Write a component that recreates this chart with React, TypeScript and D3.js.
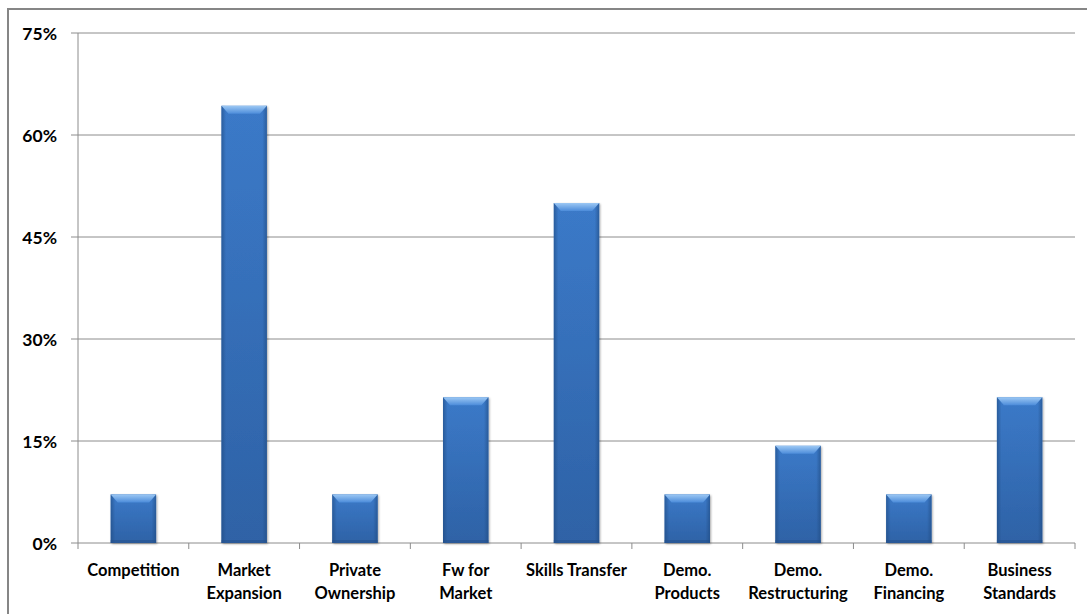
import React from 'react';
import * as d3 from 'd3';

const categories: string[][] = [
  ['Competition'],
  ['Market', 'Expansion'],
  ['Private', 'Ownership'],
  ['Fw for', 'Market'],
  ['Skills Transfer'],
  ['Demo.', 'Products'],
  ['Demo.', 'Restructuring'],
  ['Demo.', 'Financing'],
  ['Business', 'Standards'],
];
const values: number[] = [7.14, 64.29, 7.14, 21.43, 50, 7.14, 14.29, 7.14, 21.43];
const yTicks: number[] = [0, 15, 30, 45, 60, 75];

const W = 1087;
const H = 614;
const left = 78;
const right = 1075;
const top = 33;
const bottom = 543;
const font = 'Lato, "Open Sans", sans-serif';

const App = () => {
  const x = d3
    .scaleBand<number>()
    .domain(values.map((_, i) => i))
    .range([left, right])
    .paddingInner(0.59)
    .paddingOuter(0.295);
  const y = d3.scaleLinear().domain([0, 75]).range([bottom, top]);
  const step = x.step();
  const bw = x.bandwidth();
  const bevel = 8;

  return (
    <svg width={W} height={H} style={{ position: 'absolute', left: 0, top: 0, background: '#fff' }}>
      <defs>
        <linearGradient id="body" x1="0" y1="0" x2="0" y2="1">
          <stop offset="0" stopColor="#3f80d2" />
          <stop offset="1" stopColor="#3065ab" />
        </linearGradient>
        <linearGradient id="side" x1="0" y1="0" x2="1" y2="0">
          <stop offset="0" stopColor="#1f4a80" stopOpacity={0.65} />
          <stop offset="0.1" stopColor="#1f4a80" stopOpacity={0.12} />
          <stop offset="0.9" stopColor="#1f4a80" stopOpacity={0.12} />
          <stop offset="1" stopColor="#1f4a80" stopOpacity={0.65} />
        </linearGradient>
        <linearGradient id="topBevel" x1="0" y1="0" x2="0" y2="1">
          <stop offset="0" stopColor="#9cc8f4" />
          <stop offset="1" stopColor="#4c8cda" />
        </linearGradient>
        <filter id="shadow" x="-20%" y="-5%" width="140%" height="110%">
          <feDropShadow dx="1" dy="1" stdDeviation="1.2" floodColor="#000" floodOpacity={0.35} />
        </filter>
      </defs>

      {/* chart border */}
      <path d={`M8,${H} V9 H${W}`} fill="none" stroke="#868686" strokeWidth={2} />

      {/* gridlines + y ticks */}
      {yTicks.map((t) => (
        <g key={t}>
          <line x1={left - 7} x2={right} y1={y(t)} y2={y(t)} stroke="#8c8c8c" strokeWidth={1} />
          <text
            x={57}
            y={y(t)}
            textAnchor="end"
            dominantBaseline="central"
            fontFamily={font}
            fontWeight="bold"
            fontSize={17.5}
            fill="#000"
          >
            {t}%
          </text>
        </g>
      ))}

      {/* y axis */}
      <line x1={left} x2={left} y1={top} y2={bottom} stroke="#8c8c8c" strokeWidth={1} />

      {/* x ticks */}
      {d3.range(values.length + 1).map((i) => (
        <line
          key={i}
          x1={left + i * step}
          x2={left + i * step}
          y1={bottom}
          y2={bottom + 6}
          stroke="#8c8c8c"
          strokeWidth={1}
        />
      ))}

      {/* bars */}
      {values.map((v, i) => {
        const bx = x(i) as number;
        const by = y(v);
        const bh = bottom - by;
        return (
          <g key={i}>
            <rect x={bx} y={by} width={bw} height={bh} fill="url(#body)" filter="url(#shadow)" />
            <rect x={bx} y={by} width={bw} height={bh} fill="url(#side)" />
            <polygon
              points={`${bx},${by} ${bx + bw},${by} ${bx + bw - 7},${by + bevel} ${bx + 7},${by + bevel}`}
              fill="url(#topBevel)"
            />
            <rect x={bx} y={bottom - 3} width={bw} height={3} fill="#24508a" opacity={0.5} />
          </g>
        );
      })}

      {/* category labels */}
      {categories.map((lines, i) => (
        <text
          key={i}
          x={(x(i) as number) + bw / 2}
          y={576}
          textAnchor="middle"
          fontFamily={font}
          fontWeight="bold"
          fontSize={16.5}
          fill="#000"
        >
          {lines.map((l, j) => (
            <tspan key={j} x={(x(i) as number) + bw / 2} dy={j === 0 ? 0 : 23}>
              {l}
            </tspan>
          ))}
        </text>
      ))}
    </svg>
  );
};

export default App;
